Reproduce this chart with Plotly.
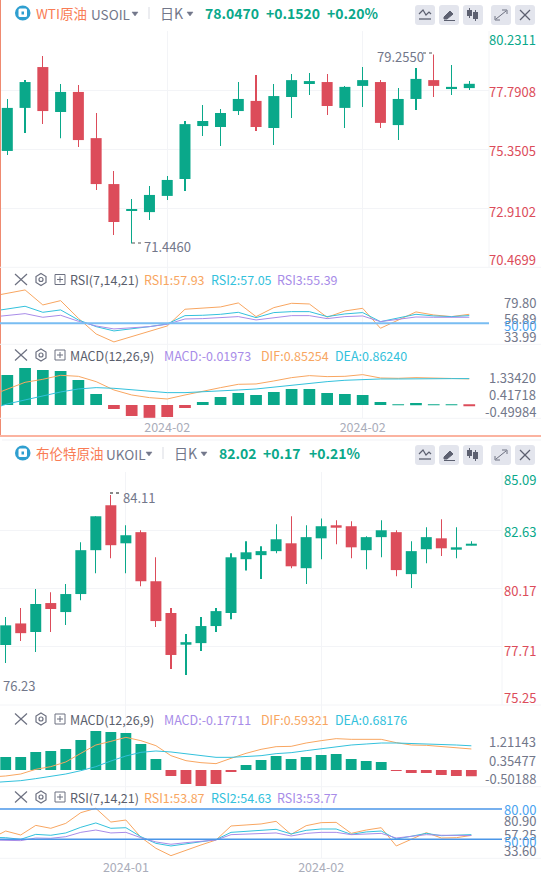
import plotly.graph_objects as go

W, H = 541, 876
GREEN = '#0aa88a'
RED = '#dc4c5a'
ORANGE = '#f8a661'
CYAN = '#33c1dc'
PURPLE = '#a88ce8'
GRID = '#f3f4f7'
GRAY = '#72778a'
BLUE = '#4aa3f0'
FONT = 'Noto Sans CJK SC'

# WTI daily candles
wti_open = [75.27, 77.05, 78.74, 76.88, 77.71, 75.80, 73.90, 72.79, 72.74, 73.41, 74.11, 76.30, 76.26, 76.92,
            77.34, 76.22, 77.50, 78.04, 78.12, 77.05, 77.96, 78.12, 76.34, 77.42, 78.20, 77.83, 77.87]
wti_close = [77.05, 78.12, 76.92, 77.71, 75.72, 73.90, 72.33, 72.83, 73.45, 74.07, 76.38, 76.51, 76.84, 77.42,
             76.26, 77.54, 78.20, 78.16, 77.13, 77.92, 78.20, 76.43, 77.42, 78.25, 77.96, 77.92, 78.047]
wti_high = [77.42, 78.20, 79.20, 78.04, 78.00, 76.84, 74.44, 73.28, 73.82, 74.23, 76.51, 77.17, 77.00, 78.12,
            78.41, 78.04, 78.45, 78.49, 78.45, 77.96, 78.74, 78.20, 77.87, 78.70, 79.255, 78.825, 78.16]
wti_low = [75.10, 76.01, 76.38, 75.80, 75.43, 73.65, 71.79, 71.446, 72.41, 73.24, 73.61, 75.89, 75.47, 76.76,
           76.09, 75.52, 76.63, 77.58, 76.76, 76.22, 77.09, 76.22, 75.72, 76.96, 77.50, 77.58, 77.79]
# the indicator lines start one bar before the left edge
wti_rsi1 = [85.9, 90.0, 94.9, 74.7, 80.5, 56.7, 35.6, 24.9, 32.0, 38.8, 46.4, 68.9, 70.2, 72.0, 77.4, 59.0,
            71.1, 76.9, 76.0, 58.1, 66.6, 70.2, 43.3, 54.5, 65.3, 61.2, 59.0, 62.1]
wti_rsi2 = [65.7, 68.9, 72.9, 64.8, 68.0, 54.5, 45.5, 39.7, 42.4, 45.5, 49.1, 60.3, 60.8, 62.1, 64.8, 57.6,
            64.4, 65.7, 65.7, 59.0, 62.6, 64.4, 52.2, 57.2, 62.1, 59.9, 59.0, 60.3]
wti_rsi3 = [58.1, 60.3, 63.0, 58.1, 60.8, 52.7, 46.4, 42.4, 43.7, 45.5, 48.7, 55.8, 56.3, 57.2, 59.0, 54.5,
            57.6, 60.3, 60.3, 56.3, 59.0, 59.9, 52.2, 55.4, 58.5, 58.1, 57.6, 58.1]
wti_hist = [0.981, 1.21, 1.145, 1.112, 0.818, 0.36, -0.131, -0.36, -0.436, -0.392, -0.098, 0.098, 0.262, 0.392,
            0.327, 0.425, 0.523, 0.523, 0.392, 0.36, 0.327, 0.098, 0.012, 0.065, 0.011, 0.011, -0.0197]
wti_dif = [0.294, 0.512, 0.741, 0.839, 0.97, 0.937, 0.763, 0.49, 0.327, 0.24, 0.196, 0.327, 0.458, 0.567, 0.676,
           0.687, 0.785, 0.894, 0.959, 0.927, 0.937, 0.992, 0.883, 0.872, 0.894, 0.883, 0.872, 0.8525]
wti_dea = [-0.142, 0.033, 0.164, 0.294, 0.425, 0.523, 0.567, 0.545, 0.49, 0.436, 0.403, 0.403, 0.425, 0.458, 0.49,
           0.523, 0.589, 0.654, 0.709, 0.763, 0.807, 0.839, 0.85, 0.85, 0.861, 0.861, 0.861, 0.8624]
wti_ticks = [70.4699, 72.9102, 75.3505, 77.7908, 80.2311]

# Brent daily candles
ukoil_open = [77.78, 78.69, 78.33, 79.55, 79.17, 79.93, 81.78, 83.67, 82.07, 82.54, 80.47, 79.13, 77.82, 77.86,
              78.58, 79.13, 81.40, 81.57, 81.74, 82.07, 81.02, 82.28, 82.83, 82.79, 81.78, 82.33, 82.54, 80.77,
              81.82, 82.28, 81.82, 81.99]
ukoil_close = [78.61, 78.28, 79.51, 79.30, 79.93, 81.78, 83.21, 81.99, 82.41, 80.47, 78.79, 77.36, 77.90, 78.58,
               79.21, 81.48, 81.69, 81.74, 82.24, 81.10, 82.33, 82.79, 82.75, 81.90, 82.33, 82.62, 80.94, 81.74,
               82.33, 81.86, 81.90, 82.02]
ukoil_high = [78.96, 79.34, 80.14, 80.01, 80.35, 82.11, 83.21, 84.11, 82.83, 82.62, 81.48, 79.34, 78.24, 78.96,
              79.34, 81.65, 82.16, 81.95, 82.87, 83.21, 82.83, 83.12, 83.04, 83.00, 82.37, 83.04, 82.62, 82.16,
              82.75, 83.08, 82.75, 82.16]
ukoil_low = [77.02, 77.95, 77.49, 78.33, 78.62, 79.67, 80.81, 81.44, 80.81, 80.26, 78.54, 76.77, 76.52, 77.53,
             78.33, 78.87, 80.92, 80.56, 81.65, 81.02, 80.35, 81.40, 82.03, 81.44, 80.98, 81.48, 80.68, 80.18,
             81.23, 81.53, 81.44, 81.99]
ukoil_hist = [0.367, 0.367, 0.508, 0.536, 0.592, 0.846, 1.10, 1.07, 1.04, 0.733, 0.31, -0.169, -0.395, -0.451,
              -0.395, -0.056, 0.141, 0.282, 0.395, 0.31, 0.367, 0.423, 0.451, 0.31, 0.254, 0.226, -0.019, -0.085,
              -0.085, -0.141, -0.169, -0.177]
ukoil_dif = [-0.197, -0.169, -0.113, 0.019, 0.094, 0.226, 0.47, 0.705, 0.808, 0.921, 0.827, 0.686, 0.404, 0.263,
             0.207, 0.179, 0.329, 0.47, 0.583, 0.658, 0.667, 0.761, 0.827, 0.884, 0.865, 0.865, 0.865, 0.771,
             0.705, 0.696, 0.658, 0.611, 0.593]
ukoil_dea = [-0.357, -0.338, -0.301, -0.244, -0.188, -0.113, -0.019, 0.094, 0.254, 0.395, 0.498, 0.536, 0.508,
             0.451, 0.404, 0.357, 0.357, 0.376, 0.404, 0.461, 0.489, 0.545, 0.602, 0.658, 0.705, 0.733, 0.761,
             0.761, 0.752, 0.743, 0.724, 0.705, 0.682]
ukoil_rsi1 = [50.7, 58.2, 54.3, 63.8, 60.9, 65.8, 76.4, 80.7, 67.1, 69.1, 52.0, 41.1, 33.8, 39.4, 44.4, 49.3, 63.2,
              64.2, 65.2, 67.8, 54.9, 63.5, 66.5, 66.8, 55.9, 59.2, 61.5, 43.4, 50.0, 56.6, 51.3, 51.6, 53.87]
ukoil_rsi2 = [52.0, 51.6, 50.0, 54.9, 54.0, 56.3, 61.9, 66.2, 60.9, 61.5, 52.6, 46.0, 43.4, 45.7, 47.7, 49.7, 56.9,
              57.9, 58.6, 59.9, 55.3, 58.9, 60.2, 60.2, 54.9, 57.3, 58.2, 50.3, 53.0, 55.9, 53.6, 54.0, 54.63]
ukoil_rsi3 = [49.3, 49.3, 48.7, 51.3, 51.0, 52.6, 56.9, 59.2, 56.3, 56.9, 51.6, 47.4, 45.1, 46.7, 48.0, 49.3, 54.6,
              55.3, 55.6, 56.3, 53.3, 55.9, 56.9, 56.9, 54.6, 55.6, 55.9, 51.3, 53.0, 54.6, 54.0, 54.0, 53.77]
ukoil_ticks = [75.25, 77.71, 80.17, 82.63, 85.09]


def ydomain(top, bottom):
    return [1 - bottom / H, 1 - top / H]


fig = go.Figure()


def add_candles(opens, closes, highs, lows, axis, body, wick):
    colors = [GREEN if c >= o else RED for o, c in zip(opens, closes)]
    x = list(range(len(opens)))
    fig.add_trace(go.Bar(x=x, y=[h - l for h, l in zip(highs, lows)], base=lows, width=wick,
                         marker=dict(color=colors, line_width=0), xaxis=f'x{axis}', yaxis=f'y{axis}'))
    fig.add_trace(go.Bar(x=x, y=[abs(c - o) for o, c in zip(opens, closes)],
                         base=[min(o, c) for o, c in zip(opens, closes)], width=body,
                         marker=dict(color=colors, line_width=0), xaxis=f'x{axis}', yaxis=f'y{axis}'))


def add_hist(values, axis, body):
    colors = [GREEN if v >= 0 else RED for v in values]
    fig.add_trace(go.Bar(x=list(range(len(values))), y=values, width=body,
                         marker=dict(color=colors, line_width=0), xaxis=f'x{axis}', yaxis=f'y{axis}'))


def add_lines(series, axis):
    for values, color in series:
        fig.add_trace(go.Scatter(x=list(range(-1, len(values) - 1)), y=values, mode='lines',
                                 line=dict(color=color, width=1), xaxis=f'x{axis}', yaxis=f'y{axis}'))


# panel 1-3 WTI, panel 4-6 Brent, axis 7 is a pixel overlay for the page furniture
add_candles(wti_open, wti_close, wti_high, wti_low, 1, 0.62, 0.01)
add_lines([(wti_rsi1, ORANGE), (wti_rsi2, CYAN), (wti_rsi3, PURPLE)], 2)
add_hist(wti_hist, 3, 0.66)
add_lines([(wti_dif, ORANGE), (wti_dea, CYAN)], 3)
add_candles(ukoil_open, ukoil_close, ukoil_high, ukoil_low, 4, 0.73, 0.01)
add_hist(ukoil_hist, 5, 0.72)
add_lines([(ukoil_dif, ORANGE), (ukoil_dea, CYAN)], 5)
add_lines([(ukoil_rsi1, ORANGE), (ukoil_rsi2, CYAN), (ukoil_rsi3, PURPLE)], 6)
fig.add_trace(go.Scatter(x=[], y=[], xaxis='x7', yaxis='y7'))

panels = {
    1: dict(top=31, bottom=267, yrange=[70.4699, 80.2311], yticks=wti_ticks, right=489),
    2: dict(top=267.3, bottom=344.3, yrange=[21.7, 125.4], yticks=[], right=489),
    3: dict(top=344.3, bottom=418.3, yrange=[-0.436, 1.984], yticks=[], right=489),
    4: dict(top=471.7, bottom=705, yrange=[75.25, 85.09], yticks=ukoil_ticks, right=502),
    5: dict(top=705, bottom=786.7, yrange=[-0.471, 1.833], yticks=[], right=502),
    6: dict(top=786.7, bottom=858.3, yrange=[31.2, 102.1], yticks=[], right=502),
}
wti_xrange = [-0.411, 27.11]
ukoil_xrange = [-0.38, 33.04]
wti_months = [9, 20]
ukoil_months = [8, 21]
wti_month_labels = ['2024-02', '2024-02']
ukoil_month_labels = ['2024-01', '2024-02']

layout = dict(width=W, height=H, margin=dict(l=0, r=0, t=0, b=0), paper_bgcolor='white',
              plot_bgcolor='rgba(0,0,0,0)', showlegend=False, barmode='overlay', hovermode=False,
              font=dict(family=FONT, color=GRAY, size=13))
for i, p in panels.items():
    wti = i <= 3
    layout[f'xaxis{i}'] = dict(
        domain=[0, p['right'] / W], range=wti_xrange if wti else ukoil_xrange, anchor=f'y{i}',
        tickmode='array', tickvals=wti_months if wti else ukoil_months,
        ticktext=(wti_month_labels if wti else ukoil_month_labels) if i in (3, 6) else None,
        showticklabels=i in (3, 6), ticklen=0, showgrid=True, gridcolor=GRID, gridwidth=1, zeroline=False,
        showline=False, tickfont=dict(size=12.5, color='#aaadba'))
    layout[f'yaxis{i}'] = dict(
        domain=ydomain(p['top'], p['bottom']), range=p['yrange'], anchor=f'x{i}', tickmode='array',
        tickvals=p['yticks'], showticklabels=False, ticklen=0, showgrid=True, gridcolor=GRID, zeroline=False,
        showline=False)
layout['xaxis7'] = dict(domain=[0, 1], range=[0, W], anchor='y7', visible=False, fixedrange=True)
layout['yaxis7'] = dict(domain=[0, 1], range=[H, 0], anchor='x7', visible=False, fixedrange=True)

shapes = []
annots = []


def text(s, x, y, color=GRAY, size=13, anchor='left', bold=False):
    annots.append(dict(text=f'<b>{s}</b>' if bold else s, x=x, y=y, xref='x7', yref='y7', xanchor=anchor,
                       yanchor='middle', showarrow=False, borderpad=0,
                       font=dict(size=size, color=color, family=FONT)))


def seg(x0, y0, x1, y1, color=GRID, width=1, dash=None):
    shapes.append(dict(type='line', x0=x0, y0=y0, x1=x1, y1=y1, xref='x7', yref='y7',
                       line=dict(color=color, width=width, dash=dash), layer='above'))


def path(d, color=GRAY, width=1.2, fill=None):
    shapes.append(dict(type='path', path=d, xref='x7', yref='y7', fillcolor=fill,
                       line=dict(color=color, width=width), layer='above'))


def box(x0, y0, x1, y1, color, radius=0):
    if radius:
        r = radius
        d = (f'M{x0+r},{y0} L{x1-r},{y0} Q{x1},{y0} {x1},{y0+r} L{x1},{y1-r} Q{x1},{y1} {x1-r},{y1} '
             f'L{x0+r},{y1} Q{x0},{y1} {x0},{y1-r} L{x0},{y0+r} Q{x0},{y0} {x0+r},{y0} Z')
        shapes.append(dict(type='path', path=d, xref='x7', yref='y7', fillcolor=color, line_width=0, layer='above'))
    else:
        shapes.append(dict(type='rect', x0=x0, y0=y0, x1=x1, y1=y1, xref='x7', yref='y7', fillcolor=color,
                           line_width=0, layer='above'))


def caret(x, y):
    path(f'M{x-3},{y-2} L{x+3},{y-2} L{x},{y+2} Z', color=GRAY, width=0.5, fill=GRAY)


def header(y, name, code, code_x, price, change, pct, xs):
    shapes.append(dict(type='circle', x0=15, y0=y - 7.5, x1=30.5, y1=y + 7.5, xref='x7', yref='y7',
                       fillcolor='#2f9fd0', line_width=0, layer='above'))
    box(18.5, y - 4.5, 27, y + 4, 'white', 1.5)
    box(21.5, y - 1.5, 24, y + 1.5, '#2f9fd0')
    text(name, 35, y, '#f97c55', 13.5)
    text(code, code_x, y + 1, GRAY, 13.5)
    caret(xs[0], y + 1)
    seg(xs[1], y - 6, xs[1], y + 6, '#d9dbe2', 1)
    text('日K', xs[1] + 10, y, GRAY, 14)
    caret(xs[1] + 41, y + 1)
    text(price, xs[2], y, GREEN, 14, bold=True)
    text(change, xs[3], y, GREEN, 14, bold=True)
    text(pct, xs[4], y, GREEN, 14, bold=True)
    top = y - 8
    for x0 in [415, 439, 463, 491, 515]:
        box(x0, top, x0 + 20, top + 20, '#e3e5ed', 3)
    t = top
    path(f'M419,{t+9} L423,{t+5} L426,{t+10} L429,{t+7} L431,{t+9}', '#5c6070', 1.2)
    seg(419, t + 14, 431, t + 14, '#5c6070', 1.3)
    path(f'M444,{t+12} L450,{t+6} L453,{t+9} L447,{t+14} L444,{t+14} Z', '#5c6070', 1, '#5c6070')
    seg(444, t + 15.5, 455, t + 15.5, '#5c6070', 1)
    for cx, a, b in [(469.5, 5, 11), (475.5, 7, 14)]:
        seg(cx, t + a - 2, cx, t + b + 2, '#5c6070', 1)
        box(cx - 2.5, t + a, cx + 2.5, t + b, '#5c6070')
    seg(496, t + 14, 506, t + 6, '#6c7080', 1)
    path(f'M502,{t+5} L507,{t+5} L507,{t+9}', '#6c7080', 1)
    path(f'M495,{t+11} L495,{t+15} L500,{t+15}', '#6c7080', 1)
    seg(520, t + 5, 530, t + 15, '#5c6070', 1.3)
    seg(530, t + 5, 520, t + 15, '#5c6070', 1.3)


def row_icons(y):
    seg(15, y - 5.5, 27, y + 5.5, '#6c7080', 1.2)
    seg(27, y - 5.5, 15, y + 5.5, '#6c7080', 1.2)
    path(f'M41,{y-6} L46,{y-3} L46,{y+3} L41,{y+6} L36,{y+3} L36,{y-3} Z', '#6c7080', 1.2)
    shapes.append(dict(type='circle', x0=39, y0=y - 2, x1=43, y1=y + 2, xref='x7', yref='y7',
                       line=dict(color='#6c7080', width=1.2), layer='above'))
    shapes.append(dict(type='rect', x0=55, y0=y - 5, x1=65, y1=y + 5, xref='x7', yref='y7',
                       line=dict(color='#6c7080', width=1), layer='above'))
    seg(57, y, 63, y, '#6c7080', 1)
    seg(60, y - 3, 60, y + 3, '#6c7080', 1)


def indicator_row(y, title, items):
    row_icons(y)
    text(title, 69, y, '#5a5e6c', 12.5)
    for s, x, color in items:
        text(s, x, y, color, 12.5)


# page furniture
seg(0.5, 0, 0.5, 436, '#ef8a70', 1)
seg(0, 436, W, 436, '#fbb3a0', 2)
seg(2, 440, W, 440, '#f1f2f5', 1)
seg(489, 31, 489, 267, GRID)
seg(502, 471.7, 502, 705, GRID)
for yy in [267.3, 344.3, 418.3]:
    seg(0, yy, W, yy, GRID)
for yy in [705, 786.7, 858.3]:
    seg(0, yy, W, yy, GRID)

header(13, 'WTI原油', 'USOIL', 90, '78.0470', '+0.1520', '+0.20%', [135, 149, 204, 265, 326])
header(453, '布伦特原油', 'UKOIL', 105, '82.02', '+0.17', '+0.21%', [149, 163, 218, 262, 308])

indicator_row(279.5, 'RSI(7,14,21)', [('RSI1:57.93', 143, ORANGE), ('RSI2:57.05', 210, CYAN), ('RSI3:55.39', 276, PURPLE)])
indicator_row(355, 'MACD(12,26,9)', [('MACD:-0.01973', 163, PURPLE), ('DIF:0.85254', 260, ORANGE), ('DEA:0.86240', 334, CYAN)])
indicator_row(719, 'MACD(12,26,9)', [('MACD:-0.17711', 163, PURPLE), ('DIF:0.59321', 260, ORANGE), ('DEA:0.68176', 334, CYAN)])
indicator_row(797, 'RSI(7,14,21)', [('RSI1:53.87', 143, ORANGE), ('RSI2:54.63', 210, CYAN), ('RSI3:53.77', 276, PURPLE)])

# price and indicator scale labels
for s, y, c in [('80.2311', 39, GREEN), ('77.7908', 91, RED), ('75.3505', 150, RED), ('72.9102', 211, RED),
                ('70.4699', 259, RED), ('79.80', 302, GRAY), ('56.89', 318, GRAY), ('50.00', 325, BLUE),
                ('33.99', 336, GRAY), ('1.33420', 377, GRAY), ('0.41718', 394, GRAY), ('-0.49984', 411, GRAY),
                ('85.09', 479, GREEN), ('82.63', 531, GREEN), ('80.17', 590, RED), ('77.71', 650, RED),
                ('75.25', 697, RED), ('1.21143', 741, GRAY), ('0.35477', 760, GRAY), ('-0.50188', 778, GRAY),
                ('80.00', 809, BLUE), ('80.90', 820, GRAY), ('57.25', 834, GRAY), ('50.00', 841, BLUE),
                ('33.60', 850, GRAY)]:
    text(s, 537, y, c, 13, 'right')

# high / low markers
text('79.2550', 376, 56)
seg(423, 53, 434, 53, '#555', 1, 'dot')
text('71.4460', 143, 246)
seg(132, 243, 142, 243, '#555', 1, 'dot')
text('84.11', 122, 497)
seg(110, 493, 120, 493, '#111', 1, 'dot')
text('76.23', 2, 685)

# reference lines of the RSI panels
wti_rsi_level = [50]
ukoil_rsi_levels = [80, 50]
for v in wti_rsi_level:
    shapes.append(dict(type='line', xref='x2 domain', yref='y2', x0=0, x1=1, y0=v, y1=v,
                       line=dict(color='#79bdf2', width=2)))
for v in ukoil_rsi_levels:
    shapes.append(dict(type='line', xref='x6 domain', yref='y6', x0=0, x1=1, y0=v, y1=v,
                       line=dict(color='#4a96e8', width=1.5)))

layout['shapes'] = shapes
layout['annotations'] = annots
fig.update_layout(**layout)
fig.update_traces(hoverinfo='skip')

fig.write_html('out.html', config=dict(displayModeBar=False),
               post_script="document.body.style.margin='0';")
